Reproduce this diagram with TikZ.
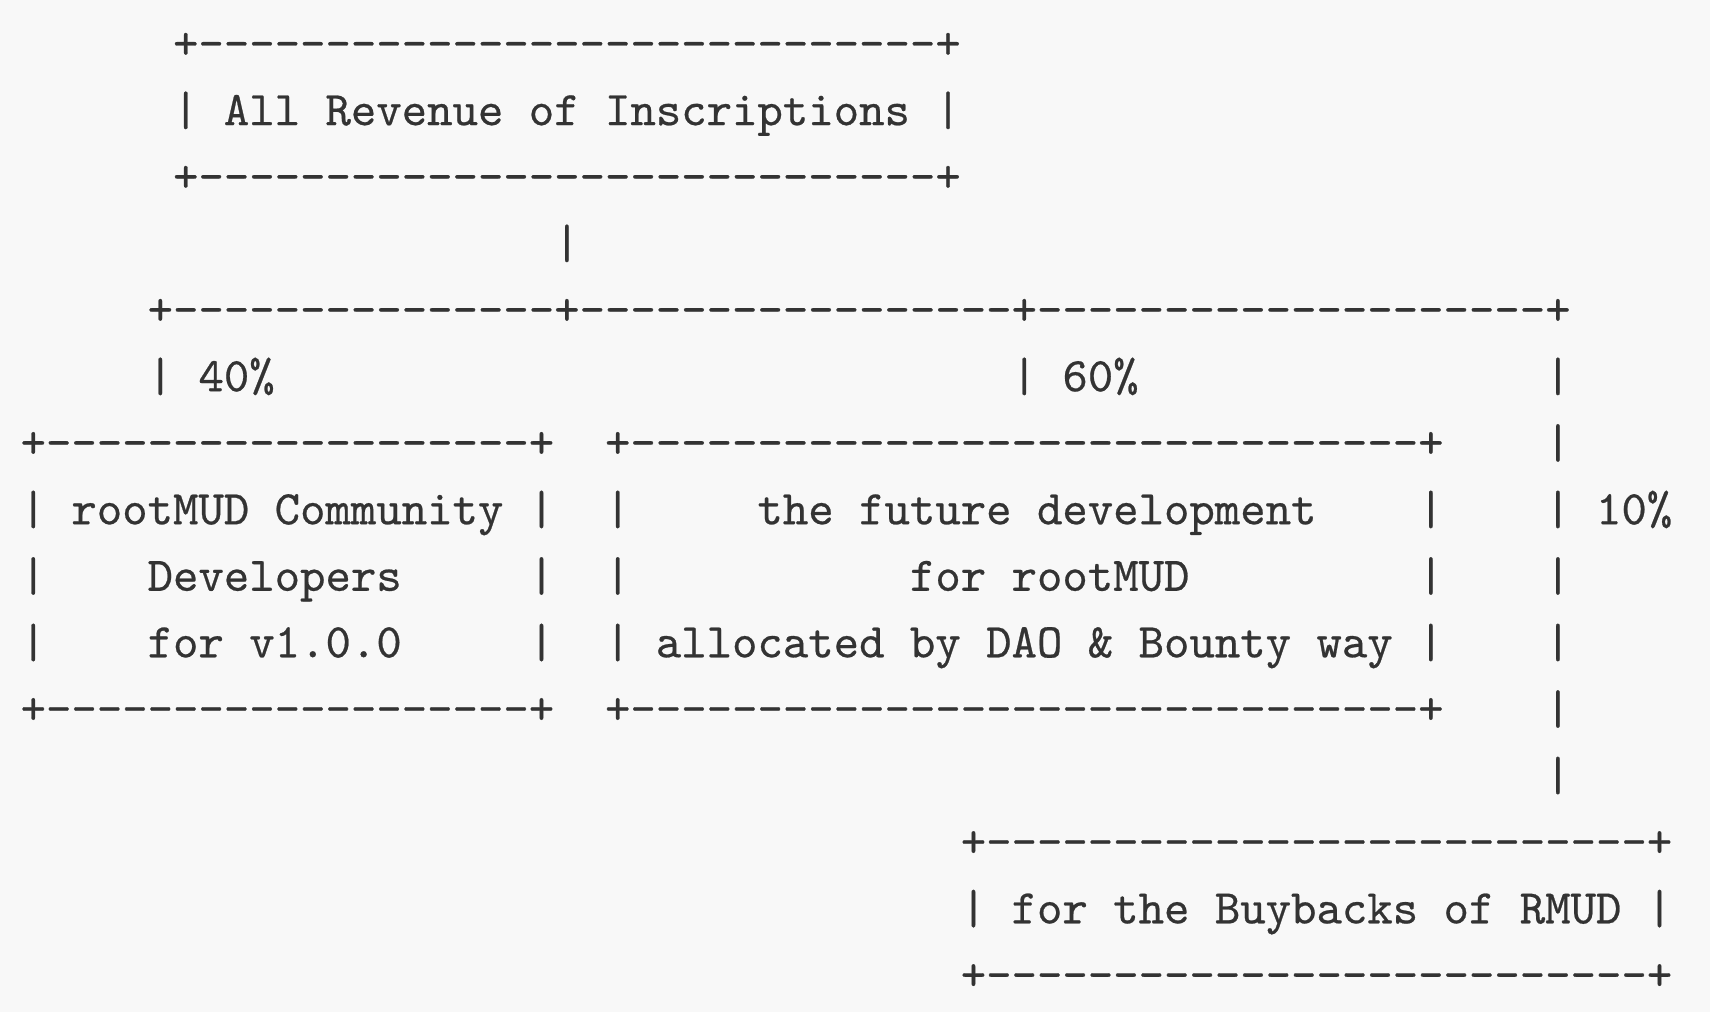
\documentclass[tikz,border=0pt]{standalone}
\usepackage{fontspec}
\newfontfamily\ascfont{lmmono10-regular.otf}[FakeBold=0.5]
\definecolor{bgc}{HTML}{F8F8F8}
\definecolor{txc}{HTML}{333333}
\tikzset{asc/.style={anchor=base west,inner sep=0pt,outer sep=0pt,text=txc,font=\ascfont\fontsize{24.2pt}{24.2pt}\selectfont}}
\newcommand\tx[4]{\node[asc] (#1) at ({10.3pt+#2*12.705pt},{-29.3pt-(#3-1)*33.26pt}) {#4};}
\begin{document}
\begin{tikzpicture}
\fill[bgc] (0,0) rectangle (855pt,-506pt);
\useasboundingbox (0,0) rectangle (855pt,-506pt);
% top box
\tx{topA}{6}{1}{+-----------------------------+}
\tx{topB}{6}{2}{| All Revenue of Inscriptions |}
\tx{topC}{6}{3}{+-----------------------------+}
\tx{stem}{21}{4}{|}
\tx{split}{5}{5}{+---------------+-----------------+--------------------+}
\tx{lbA}{5}{6}{| 40\%}
\tx{lbB}{39}{6}{| 60\%}
\tx{vr6}{60}{6}{|}
% left box
\tx{lA}{0}{7}{+-------------------+}
\tx{lB}{0}{8}{| rootMUD Community |}
\tx{lC1}{0}{9}{|}
\tx{lC}{5}{9}{Developers}
\tx{lC2}{20}{9}{|}
\tx{lD1}{0}{10}{|}
\tx{lD}{5}{10}{for v1.0.0}
\tx{lD2}{20}{10}{|}
\tx{lE}{0}{11}{+-------------------+}
% middle box
\tx{mA}{23}{7}{+-------------------------------+}
\tx{mB1}{23}{8}{|}
\tx{mB}{29}{8}{the future development}
\tx{mB2}{55}{8}{|}
\tx{mC1}{23}{9}{|}
\tx{mC}{35}{9}{for rootMUD}
\tx{mC2}{55}{9}{|}
\tx{mD}{23}{10}{| allocated by DAO \& Bounty way |}
\tx{mE}{23}{11}{+-------------------------------+}
% right line
\tx{vr7}{60}{7}{|}
\tx{vr8}{60}{8}{| 10\%}
\tx{vr9}{60}{9}{|}
\tx{vr10}{60}{10}{|}
\tx{vr11}{60}{11}{|}
\tx{vr12}{60}{12}{|}
% bottom box
\tx{bA}{37}{13}{+--------------------------+}
\tx{bB}{37}{14}{| for the Buybacks of RMUD |}
\tx{bC}{37}{15}{+--------------------------+}
\end{tikzpicture}
\end{document}
